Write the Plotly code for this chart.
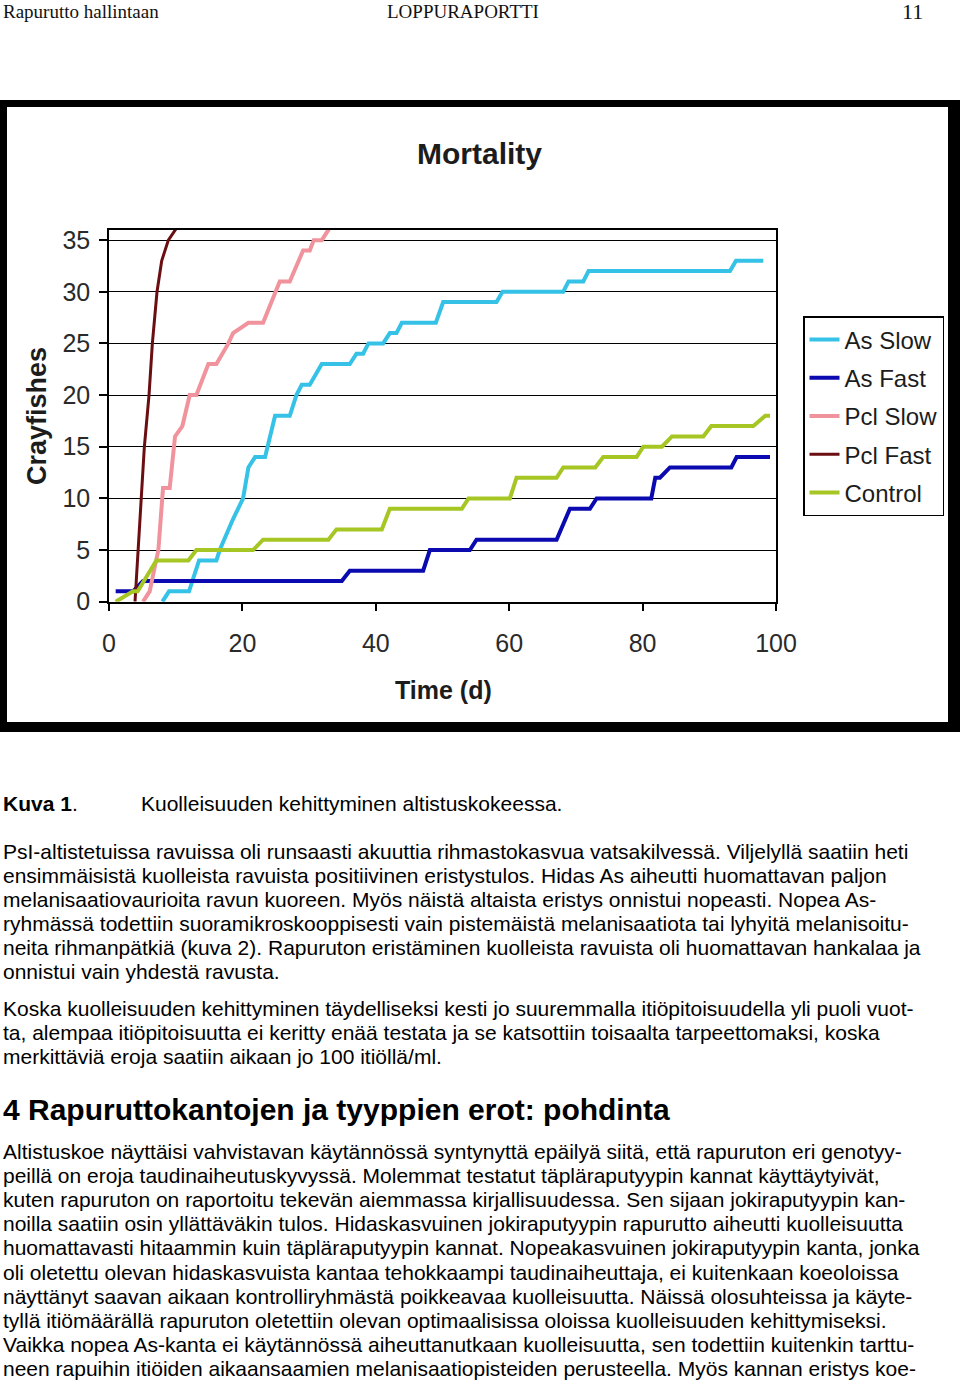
import plotly.graph_objects as go

W, H = 960, 1383

# ---------------- data ----------------
series_names = ["As Slow", "As Fast", "Pcl Slow", "Pcl Fast", "Control"]
series_colors = ["#35C2E6", "#0A0AB0", "#F0939C", "#6B0E12", "#A6C623"]

as_slow_days = [8, 9, 12, 13.5, 16.1, 16.6, 18.6, 20.1, 20.9, 21.9, 23.4, 24.9, 27.1, 28.1, 28.9, 30.1,
                31.9, 36.1, 37.1, 38.1, 38.9, 41.1, 42.1, 43.1, 43.9, 49, 50.1, 58.1, 59, 68.1, 68.9,
                71.1, 71.9, 93.1, 94, 98.1]
as_slow_vals = [0, 1, 1, 4, 4, 5, 8, 10, 13, 14, 14, 18, 18, 20, 21, 21,
                23, 23, 24, 24, 25, 25, 26, 26, 27, 27, 29, 29, 30, 30, 31,
                31, 32, 32, 33, 33]

as_fast_days = [1, 3.6, 5.1, 34.9, 36.1, 47.1, 48.1, 54.1, 55.1, 67.1, 69.1, 72.1, 73.1, 81.3, 81.9,
                82.6, 84.1, 93.3, 94.1, 99.1]
as_fast_vals = [1, 1, 2, 2, 3, 3, 5, 5, 6, 6, 9, 9, 10, 10, 12,
                12, 13, 13, 14, 14]

pcl_slow_days = [5.1, 6.1, 6.9, 7.4, 8.1, 9.1, 9.9, 11, 12.1, 13.1, 14.9, 16.1, 17.9, 18.6, 20.9,
                 23.1, 25.6, 27.1, 29.1, 30.1, 30.7, 31.9, 32.9, 34]
pcl_slow_vals = [0, 1, 3.5, 5, 11, 11, 16, 17, 20, 20, 23, 23, 25, 26, 27,
                 27, 31, 31, 34, 34, 35, 35, 36, 37]

pcl_fast_days = [3.9, 4.4, 4.8, 5.3, 6.0, 6.5, 7.2, 7.9, 8.9, 9.9, 11]
pcl_fast_vals = [0, 5, 10, 15, 20, 25, 30, 33, 35, 36, 37]

control_days = [1, 3.6, 4.3, 7.1, 11.9, 13.1, 21.6, 23.1, 32.9, 34.1, 40.9, 42.1, 52.9, 53.9, 60.1,
                61.1, 67.1, 68.1, 72.9, 74.1, 79.1, 80.1, 82.9, 84.4, 89.1, 90.3, 96.6, 98.4, 99.1]
control_vals = [0, 1, 1, 4, 4, 5, 5, 6, 6, 7, 7, 9, 9, 10, 10,
                12, 12, 13, 13, 14, 14, 15, 15, 16, 16, 17, 17, 18, 18]

x_ticks = [0, 20, 40, 60, 80, 100]
y_ticks = [0, 5, 10, 15, 20, 25, 30, 35]

chart_title = "Mortality"
x_title = "Time (d)"
y_title = "Crayfishes"

header_left = "Rapurutto hallintaan"
header_mid = "LOPPURAPORTTI"
header_right = "11"

caption_label = "Kuva 1"
caption_text = "Kuolleisuuden kehittyminen altistuskokeessa."

para1 = [
    "PsI-altistetuissa ravuissa oli runsaasti akuuttia rihmastokasvua vatsakilvessä. Viljelyllä saatiin heti",
    "ensimmäisistä kuolleista ravuista positiivinen eristystulos. Hidas As aiheutti huomattavan paljon",
    "melanisaatiovaurioita ravun kuoreen. Myös näistä altaista eristys onnistui nopeasti. Nopea As-",
    "ryhmässä todettiin suoramikroskooppisesti vain pistemäistä melanisaatiota tai lyhyitä melanisoitu-",
    "neita rihmanpätkiä (kuva 2). Rapuruton eristäminen kuolleista ravuista oli huomattavan hankalaa ja",
    "onnistui vain yhdestä ravusta.",
]
para2 = [
    "Koska kuolleisuuden kehittyminen täydelliseksi kesti jo suuremmalla itiöpitoisuudella yli puoli vuot-",
    "ta, alempaa itiöpitoisuutta ei keritty enää testata ja se katsottiin toisaalta tarpeettomaksi, koska",
    "merkittäviä eroja saatiin aikaan jo 100 itiöllä/ml.",
]
heading = "4 Rapuruttokantojen ja tyyppien erot: pohdinta"
para3 = [
    "Altistuskoe näyttäisi vahvistavan käytännössä syntynyttä epäilyä siitä, että rapuruton eri genotyy-",
    "peillä on eroja taudinaiheutuskyvyssä. Molemmat testatut täpläraputyypin kannat käyttäytyivät,",
    "kuten rapuruton on raportoitu tekevän aiemmassa kirjallisuudessa. Sen sijaan jokiraputyypin kan-",
    "noilla saatiin osin yllättäväkin tulos. Hidaskasvuinen jokiraputyypin rapurutto aiheutti kuolleisuutta",
    "huomattavasti hitaammin kuin täpläraputyypin kannat. Nopeakasvuinen jokiraputyypin kanta, jonka",
    "oli oletettu olevan hidaskasvuista kantaa tehokkaampi taudinaiheuttaja, ei kuitenkaan koeoloissa",
    "näyttänyt saavan aikaan kontrolliryhmästä poikkeavaa kuolleisuutta. Näissä olosuhteissa ja käyte-",
    "tyllä itiömäärällä rapuruton oletettiin olevan optimaalisissa oloissa kuolleisuuden kehittymiseksi.",
    "Vaikka nopea As-kanta ei käytännössä aiheuttanutkaan kuolleisuutta, sen todettiin kuitenkin tarttu-",
    "neen rapuihin itiöiden aikaansaamien melanisaatiopisteiden perusteella. Myös kannan eristys koe-",
]

# ---------------- helpers ----------------
def px(x):
    return x / W


def py(y):
    return 1 - y / H


SANS = "Liberation Sans, Arial, sans-serif"
SERIF = "Liberation Serif, Times New Roman, serif"

fig = go.Figure()

all_days = [as_slow_days, as_fast_days, pcl_slow_days, pcl_fast_days, control_days]
all_vals = [as_slow_vals, as_fast_vals, pcl_slow_vals, pcl_fast_vals, control_vals]
widths = [4, 4, 4, 3, 4]
for i, name in enumerate(series_names):
    fig.add_trace(go.Scatter(
        x=all_days[i], y=all_vals[i], mode="lines", name=name,
        legendgroup=name,
        line=dict(color=series_colors[i], width=widths[i]),
        hoverinfo="skip",
    ))

shapes = [
    dict(type="rect", xref="paper", yref="paper", x0=px(0), x1=px(960), y0=py(732), y1=py(100),
         fillcolor="black", line=dict(width=0), layer="below"),
    dict(type="rect", xref="paper", yref="paper", x0=px(7), x1=px(948), y0=py(722), y1=py(107),
         fillcolor="white", line=dict(width=0), layer="below"),
]

annotations = []


def text(x, y, s, size, family=SANS, color="#000", anchor="left", bold=False, angle=0):
    annotations.append(dict(
        x=px(x), y=py(y), xref="paper", yref="paper", text=(f"<b>{s}</b>" if bold else s),
        showarrow=False, xanchor=anchor, yanchor="middle", textangle=angle,
        font=dict(family=family, size=size, color=color),
    ))


# header
text(1, 12, header_left, 19, SERIF, "#111")
text(463, 12, header_mid, 19, SERIF, "#111", anchor="center")
text(925, 11, header_right, 22, SERIF, "#111", anchor="right")

# chart texts
text(479, 153, chart_title, 30, SANS, "#1c1c1c", anchor="center", bold=True)
text(443, 690, x_title, 25, SANS, "#1c1c1c", anchor="center", bold=True)
text(37, 416, y_title, 27, SANS, "#1c1c1c", anchor="center", bold=True, angle=-90)

# caption
text(1, 803, f"<b>{caption_label}</b>.", 21)
text(139, 803, caption_text, 21)

y = 851
for line in para1:
    text(1, y, line, 21)
    y += 24.1
y = 1008.5
for line in para2:
    text(1, y, line, 21)
    y += 24.1
text(1, 1109, heading, 30, bold=True)
y = 1151
for line in para3:
    text(1, y, line, 21)
    y += 24.2

axis_font = dict(family=SANS, size=25, color="#2a2a2a")

fig.update_layout(
    width=W, height=H, autosize=False,
    margin=dict(l=0, r=0, t=0, b=0, pad=0, autoexpand=False),
    paper_bgcolor="white", plot_bgcolor="rgba(0,0,0,0)",
    showlegend=True,
    legend=dict(
        x=px(803), y=py(316), xanchor="left", yanchor="top",
        bgcolor="white", bordercolor="black", borderwidth=1.5,
        font=dict(family=SANS, size=24, color="#1c1c1c"),
        tracegroupgap=4, traceorder="grouped",
    ),
    xaxis=dict(
        domain=[px(109), px(776)], range=[0, 100], tickvals=x_ticks, automargin=False,
        showgrid=False, zeroline=False, showline=True, linecolor="black", linewidth=1.5,
        mirror=True, ticks="outside", ticklen=8, tickwidth=1.5, tickcolor="black",
        tickfont=axis_font, ticklabelstandoff=11,
    ),
    yaxis=dict(
        domain=[py(601.7), py(229.8)], range=[0, 36], tickvals=y_ticks, automargin=False,
        showgrid=True, gridcolor="black", gridwidth=1.3, zeroline=False,
        showline=True, linecolor="black", linewidth=1.5,
        mirror=True, ticks="outside", ticklen=8, tickwidth=1.5, tickcolor="black",
        tickfont=axis_font, ticklabelstandoff=4,
    ),
    shapes=shapes,
    annotations=annotations,
)

fig.write_html(
    "out.html",
    config={"displayModeBar": False},
    post_script="document.body.style.margin='0';document.body.style.overflow='hidden';",
)
